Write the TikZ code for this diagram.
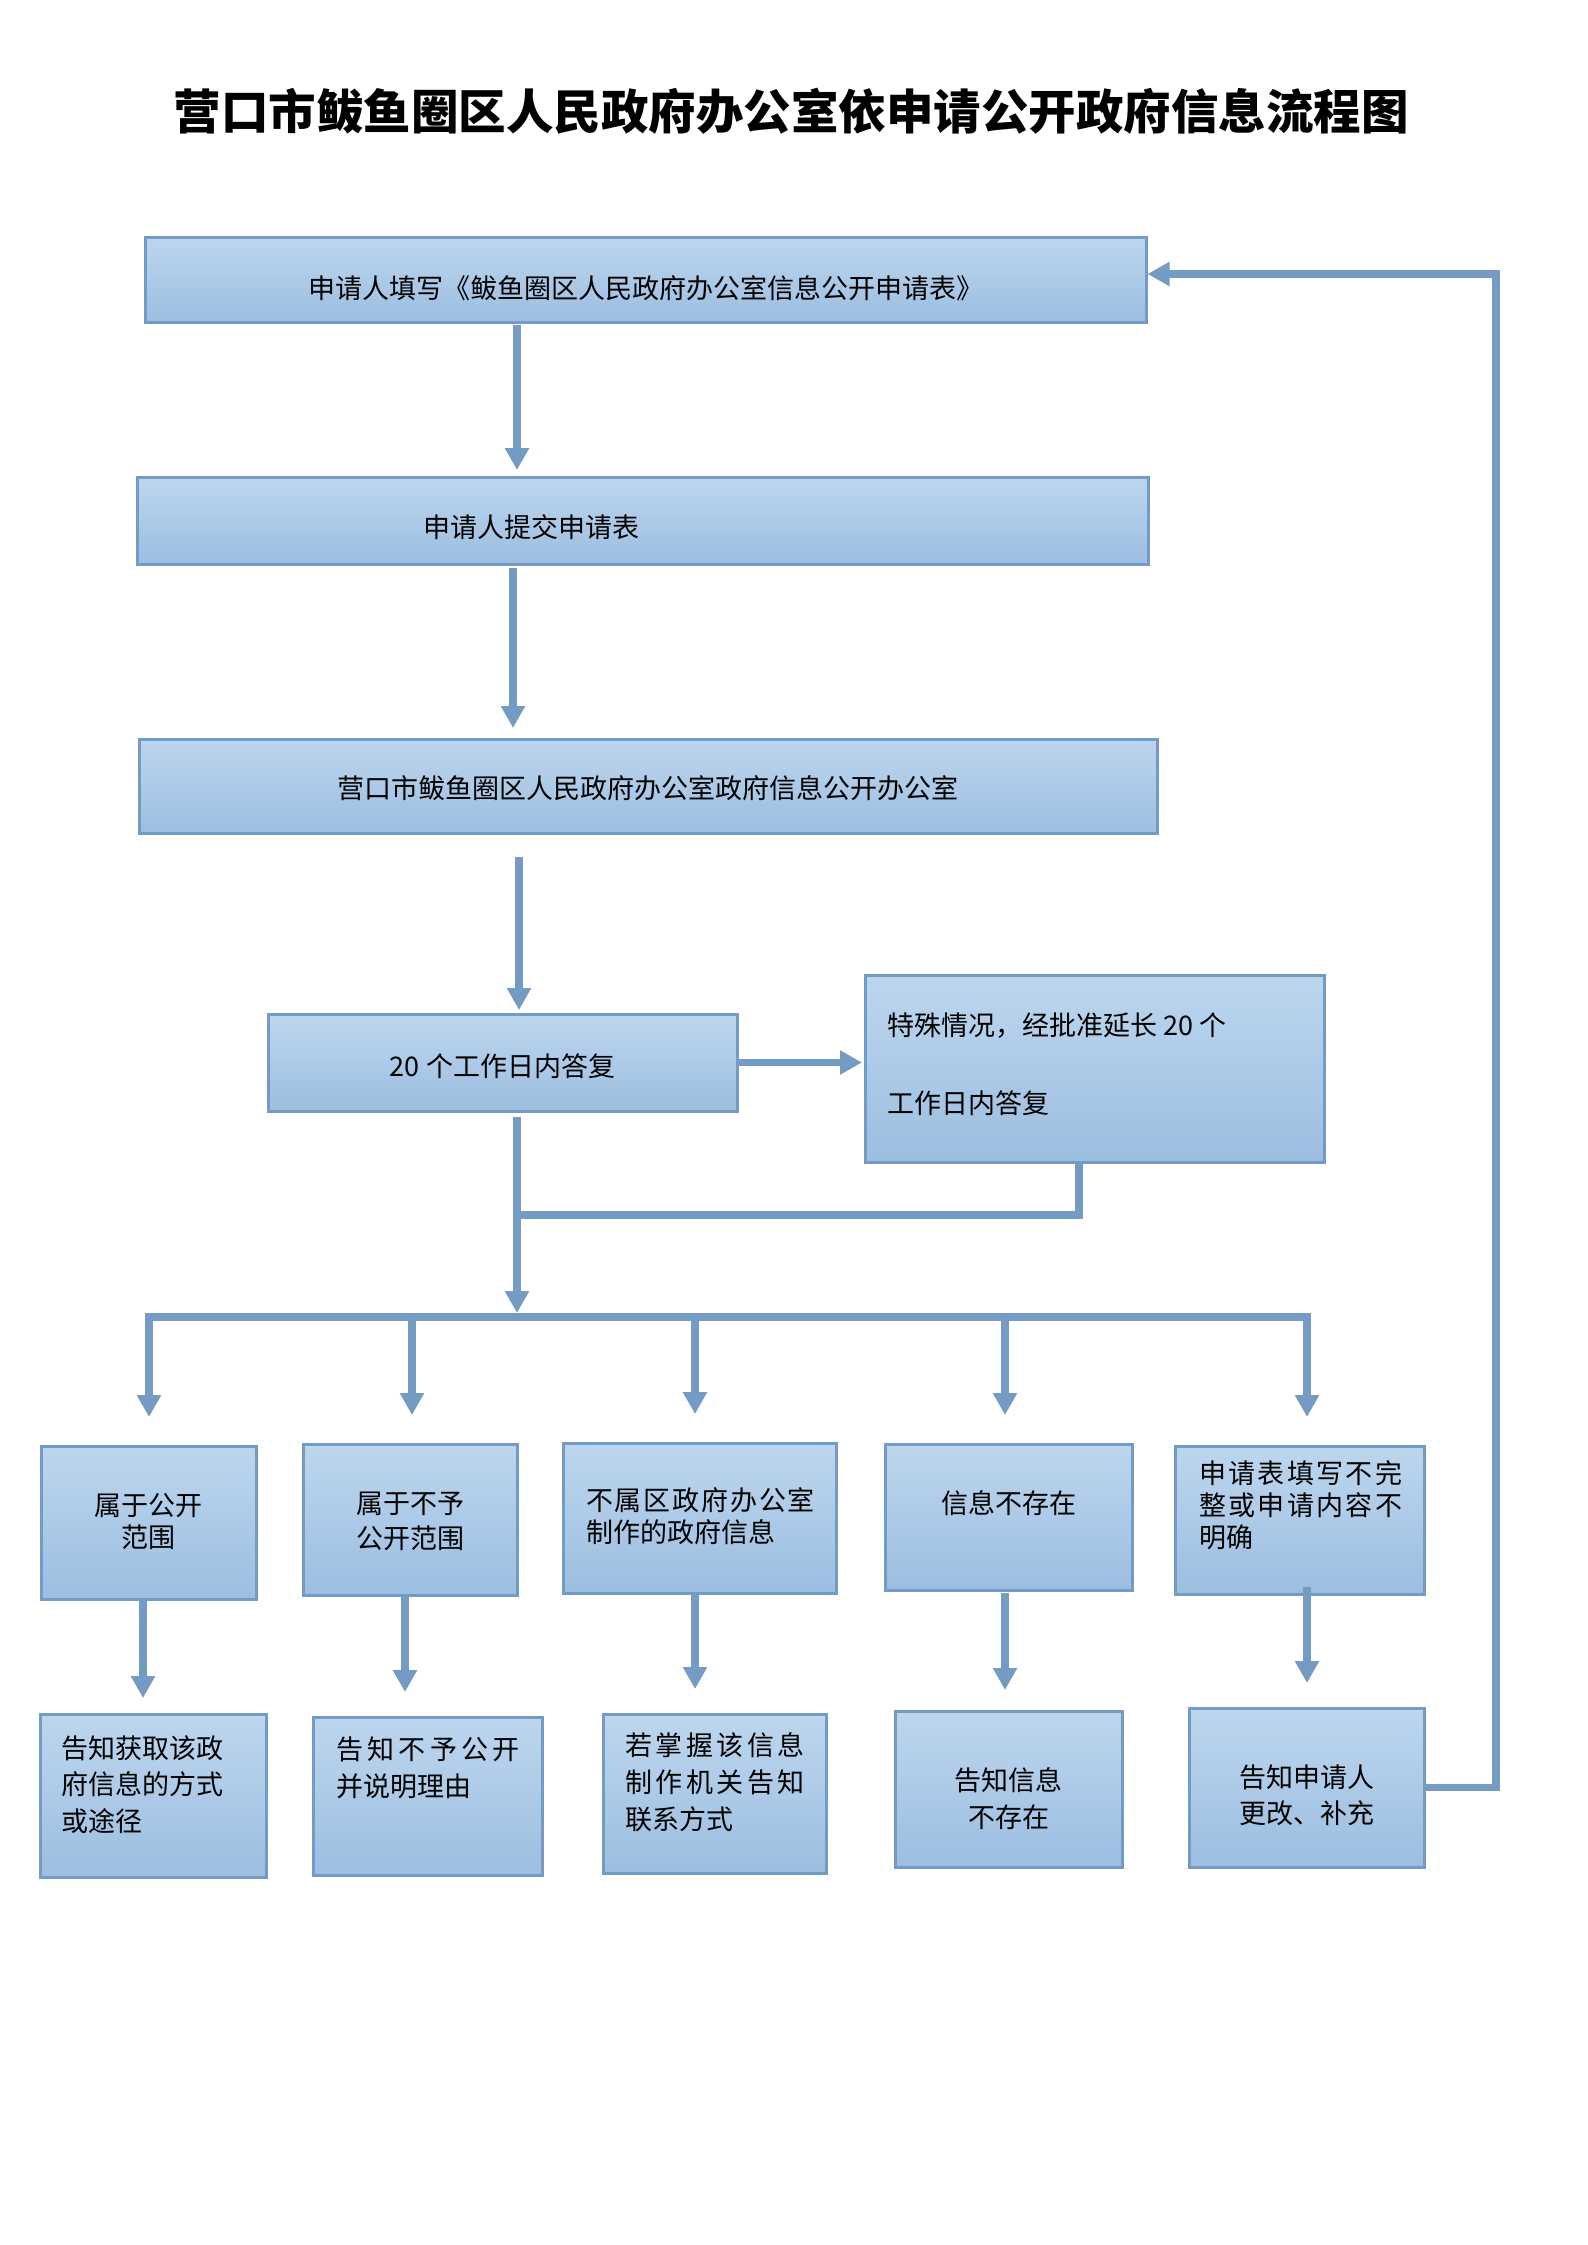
\documentclass[tikz,border=0pt]{standalone}
\usepackage{fontspec}
\setmainfont{Noto Sans CJK SC}
\usetikzlibrary{arrows.meta,shadings}
\definecolor{boxtop}{RGB}{189,214,238}
\definecolor{boxbot}{RGB}{156,190,225}
\definecolor{bordc}{RGB}{115,155,196}
\newcommand\firstline{\rule{0pt}{30pt}}
\newcommand\spr[2]{\makebox[#1][s]{#2}}
% #1 width, #2 height, #3 top gap, #4 baselineskip, #5 alignment, #6 text
\newcommand\bxtext[6]{\parbox[c][#2pt][t]{#1pt}{\fontsize{27pt}{#4pt}\selectfont\lineskiplimit=-100pt\relax #5\vspace*{#3pt}\firstline #6}}
\tikzset{
  box/.style={draw=bordc, line width=3pt, top color=boxtop, bottom color=boxbot, inner sep=0pt, outer sep=0pt},
  conn/.style={draw=bordc, line width=7.5pt},
  arr/.style={conn, -{Triangle[width=23pt,length=22pt]}},
}
\begin{document}
\begin{tikzpicture}[x=1pt,y=-1pt]
\path[use as bounding box, fill=white] (0,0) rectangle (1587,2245);

\node[font=\fontsize{47.5pt}{56pt}\selectfont\bfseries] (title) at (791,111) {营口市鲅鱼圈区人民政府办公室依申请公开政府信息流程图};

\node[box] (b1) at (645.5,279.5) {\bxtext{1001}{85}{31}{37}{\centering}{申请人填写《鲅鱼圈区人民政府办公室信息公开申请表》}};
\node[box] (b2) at (642.5,520.5) {\bxtext{1011}{87}{30}{37}{\raggedright\leftskip=286pt\relax}{申请人提交申请表}};
\node[box] (b3) at (648,786) {\bxtext{1018}{94}{29}{37}{\centering}{营口市鲅鱼圈区人民政府办公室政府信息公开办公室}};
\node[box] (b4) at (502.5,1062.5) {\bxtext{469}{97}{32}{37}{\centering}{20 个工作日内答复}};
\node[box] (b5) at (1094.5,1068.5) {\bxtext{459}{187}{30}{78}{\raggedright\leftskip=22pt\relax}{特殊情况，经批准延长 20 个\\工作日内答复}};

\node[box] (a1) at (148.5,1522.5) {\bxtext{215}{153}{39}{32}{\centering}{属于公开\\范围}};
\node[box] (a2) at (410,1519.5) {\bxtext{214}{151}{39}{35}{\centering}{属于不予\\公开范围}};
\node[box] (a3) at (699.5,1518) {\bxtext{273}{150}{37}{32}{\raggedright\leftskip=23pt\relax}{\spr{229pt}{不\hfill 属\hfill 区\hfill 政\hfill 府\hfill 办\hfill 公\hfill 室}\\制作的政府信息}};
\node[box] (a4) at (1008.5,1517) {\bxtext{247}{146}{39}{32}{\centering}{信息不存在}};
\node[box] (a5) at (1299.5,1520) {\bxtext{249}{148}{7}{32}{\raggedright\leftskip=24pt\relax}{\spr{203pt}{申\hfill 请\hfill 表\hfill 填\hfill 写\hfill 不\hfill 完}\\\spr{203pt}{整\hfill 或\hfill 申\hfill 请\hfill 内\hfill 容\hfill 不}\\明确}};

\node[box] (c1) at (153,1795.5) {\bxtext{226}{163}{14}{36.5}{\raggedright\leftskip=21pt\relax}{告知获取该政\\府信息的方式\\或途径}};
\node[box] (c2) at (427.5,1796) {\bxtext{229}{158}{12}{37}{\raggedright\leftskip=23pt\relax}{\spr{184pt}{告\hfill 知\hfill 不\hfill 予\hfill 公\hfill 开}\\并说明理由}};
\node[box] (c3) at (714.5,1793.5) {\bxtext{223}{159}{11}{37}{\raggedright\leftskip=22pt\relax}{\spr{180pt}{若\hfill 掌\hfill 握\hfill 该\hfill 信\hfill 息}\\\spr{180pt}{制\hfill 作\hfill 机\hfill 关\hfill 告\hfill 知}\\联系方式}};
\node[box] (c4) at (1008.5,1789) {\bxtext{227}{156}{49}{37}{\centering}{告知信息\\不存在}};
\node[box] (c5) at (1306.5,1787.5) {\bxtext{235}{159}{49}{36}{\centering}{告知申请人\\更改、补充}};

% column coordinates
\coordinate (x1) at (517,0);
\coordinate (x2) at (513,0);
\coordinate (x3) at (519,0);
\coordinate (x5) at (1079,0);
\coordinate (j) at (517,1215);
\coordinate (busj) at (517,1317);
\coordinate (d1) at (149,1317);
\coordinate (d2) at (412,1317);
\coordinate (d3) at (695,1317);
\coordinate (d4) at (1005,1317);
\coordinate (d5) at (1307,1317);
\coordinate (v1) at (143,0);
\coordinate (v2) at (405,0);
\coordinate (v3) at (695,0);
\coordinate (v4) at (1005,0);
\coordinate (v5) at (1307,0);
\coordinate (fb) at (1496,274);

% main chain
\draw[arr, shorten <=3pt, shorten >=7pt] (b1.south -| x1) -- (b2.north -| x1);
\draw[arr, shorten <=4pt, shorten >=11pt] (b2.south -| x2) -- (b3.north -| x2);
\draw[arr, shorten <=24pt, shorten >=4pt] (b3.south -| x3) -- (b4.north -| x3);
\draw[arr, shorten >=3pt] (b4.east) -- (b5.west |- b4.east);
\draw[arr, shorten <=6pt, shorten >=4pt] (b4.south -| x1) -- (busj);
\draw[conn] (b5.south -| x5) |- (j);

% bus
\draw[conn, line cap=rect] (d1) -- (d5);
\draw[arr, shorten >=29pt] (d1) -- (a1.north -| d1);
\draw[arr, shorten >=29pt] (d2) -- (a2.north -| d2);
\draw[arr, shorten >=29pt] (d3) -- (a3.north -| d3);
\draw[arr, shorten >=29pt] (d4) -- (a4.north -| d4);
\draw[arr, shorten >=29pt] (d5) -- (a5.north -| d5);

% second row arrows
\draw[arr, shorten <=1pt, shorten >=16pt] (a1.south -| v1) -- (c1.north -| v1);
\draw[arr, shorten >=25pt] (a2.south -| v2) -- (c2.north -| v2);
\draw[arr, shorten >=25pt] (a3.south -| v3) -- (c3.north -| v3);
\draw[arr, shorten <=3pt, shorten >=21pt] (a4.south -| v4) -- (c4.north -| v4);
\draw[arr, shorten <=-7pt, shorten >=25pt] (a5.south -| v5) -- (c5.north -| v5);

% feedback
\draw[arr, shorten >=1.5pt] (c5.east) -| (fb) -- (b1.east |- fb);
\end{tikzpicture}
\end{document}
